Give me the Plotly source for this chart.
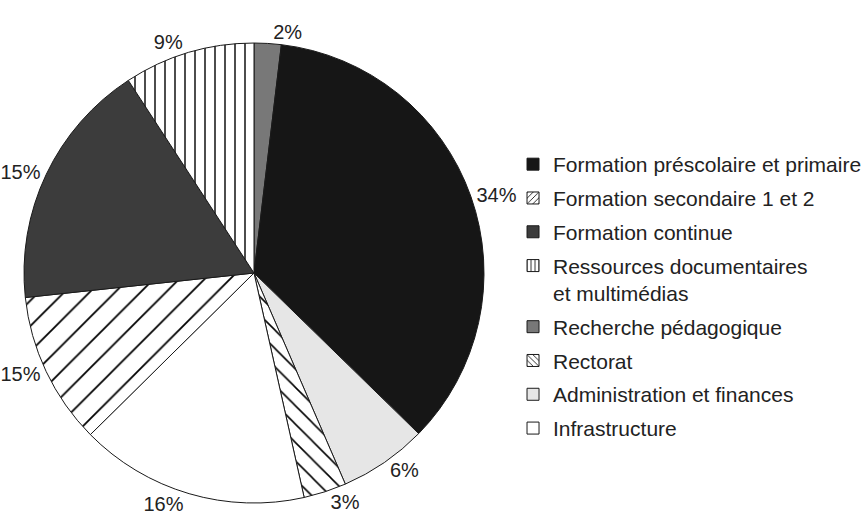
import plotly.graph_objects as go

# slices clockwise from 12 o'clock
labels = [
    "Recherche pédagogique",
    "Formation préscolaire et primaire",
    "Administration et finances",
    "Rectorat",
    "Infrastructure",
    "Formation secondaire 1 et 2",
    "Formation continue",
    "Ressources documentaires<br>et multimédias",
]
# slice sizes as measured on the picture
values = [1.9, 35.4, 6.2, 3.0, 16.1, 10.7, 17.5, 9.2]
# percentages as printed next to the slices
printed = ["2%", "34%", "6%", "3%", "16%", "15%", "15%", "9%"]

# legend order
legend_order = [
    "Formation préscolaire et primaire",
    "Formation secondaire 1 et 2",
    "Formation continue",
    "Ressources documentaires<br>et multimédias",
    "Recherche pédagogique",
    "Rectorat",
    "Administration et finances",
    "Infrastructure",
]

STYLE = {
    "Recherche pédagogique": dict(color="#787878", shape="", size=10, sol=0.1),
    "Formation préscolaire et primaire": dict(color="#161616", shape="", size=10, sol=0.1),
    "Administration et finances": dict(color="#e6e6e6", shape="", size=10, sol=0.1),
    "Rectorat": dict(color="#ffffff", shape="\\", size=13, sol=0.12),
    "Infrastructure": dict(color="#ffffff", shape="", size=10, sol=0.1),
    "Formation secondaire 1 et 2": dict(color="#ffffff", shape="/", size=18, sol=0.1),
    "Formation continue": dict(color="#3c3c3c", shape="", size=10, sol=0.1),
    "Ressources documentaires<br>et multimédias": dict(color="#ffffff", shape="|", size=10, sol=0.14),
}
FONT = "Liberation Sans, Arial, sans-serif"

fig = go.Figure()
fig.add_trace(go.Pie(
    labels=labels,
    values=values,
    text=printed,
    textinfo="text",
    textposition="outside",
    textfont=dict(size=20, color="#222222", family=FONT),
    sort=False,
    direction="clockwise",
    rotation=0,
    automargin=False,
    showlegend=False,
    marker=dict(
        colors=[STYLE[l]["color"] for l in labels],
        line=dict(color="#1a1a1a", width=1),
        pattern=dict(
            shape=[STYLE[l]["shape"] for l in labels],
            size=[STYLE[l]["size"] for l in labels],
            solidity=[STYLE[l]["sol"] for l in labels],
            fgcolor="#000000",
            fgopacity=1,
            bgcolor=[STYLE[l]["color"] for l in labels],
            fillmode="overlay",
        ),
    ),
    domain=dict(x=[0.0277, 0.5589], y=[0.0308, 0.9171]),
))

# legend entries in the reference's order
for i, name in enumerate(legend_order):
    s = STYLE[name]
    fig.add_trace(go.Bar(
        x=[None], y=[None], name=name, legendgroup=f"g{i}",
        marker=dict(
            color=s["color"],
            line=dict(color="#1a1a1a", width=1),
            pattern=dict(shape=s["shape"], size=5, fgcolor="#000000", fgopacity=1,
                         bgcolor=s["color"], solidity=0.2, fillmode="overlay"),
        ),
    ))

fig.update_layout(
    width=866,
    height=519,
    margin=dict(l=0, r=0, t=0, b=0, autoexpand=False),
    paper_bgcolor="white",
    plot_bgcolor="white",
    font=dict(family=FONT, size=21, color="#222222"),
    xaxis=dict(visible=False),
    yaxis=dict(visible=False),
    legend=dict(
        x=0.5924, y=0.7225, xanchor="left", yanchor="top",
        traceorder="grouped", tracegroupgap=3.5, itemwidth=30, valign="top",
        font=dict(size=21, color="#222222", family=FONT),
        bgcolor="rgba(0,0,0,0)",
    ),
)

# drop the default 8px page margin so the figure fills the window
fig.write_html(
    "out.html",
    config={"displayModeBar": False},
    post_script="document.body.style.margin = '0';",
)
